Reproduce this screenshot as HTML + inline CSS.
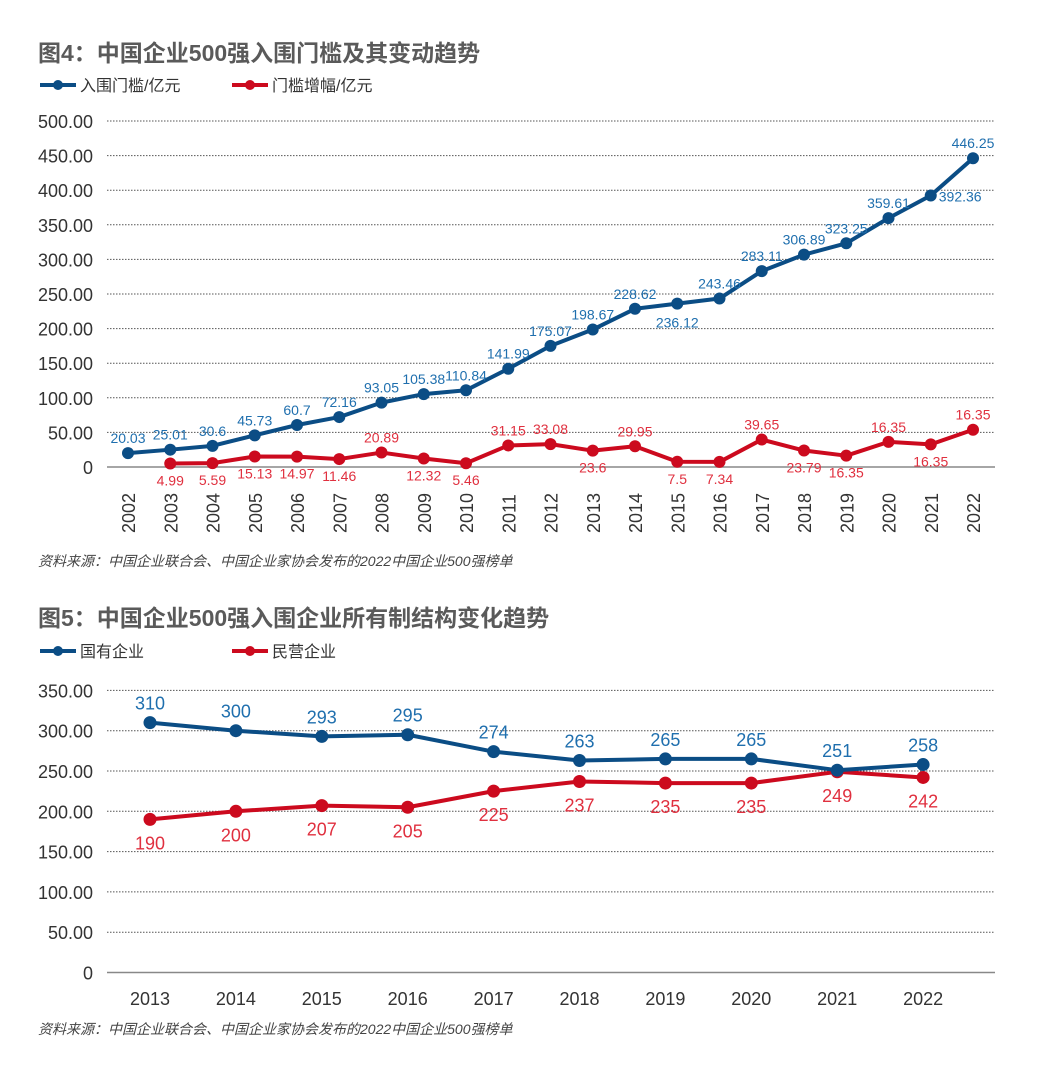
<!DOCTYPE html>
<html><head><meta charset="utf-8">
<style>
body{margin:0;background:#fff;width:1038px;height:1066px;overflow:hidden;font-family:"Liberation Sans","Noto Sans CJK SC",sans-serif;}
svg{position:absolute;left:0;top:0}
</style></head>
<body>
<svg id="s" width="1038" height="1066" font-family="Liberation Sans, Noto Sans CJK SC, sans-serif"></svg>
<script>
const years1=["2002","2003","2004","2005","2006","2007","2008","2009","2010","2011","2012","2013","2014","2015","2016","2017","2018","2019","2020","2021","2022"];
const threshold=[20.03,25.01,30.6,45.73,60.7,72.16,93.05,105.38,110.84,141.99,175.07,198.67,228.62,236.12,243.46,283.11,306.89,323.25,359.61,392.36,446.25];
const increase=[null,4.99,5.59,15.13,14.97,11.46,20.89,12.32,5.46,31.15,33.08,23.6,29.95,7.5,7.34,39.65,23.79,16.35,36.36,32.75,53.89];
const increaseLabels=["","4.99","5.59","15.13","14.97","11.46","20.89","12.32","5.46","31.15","33.08","23.6","29.95","7.5","7.34","39.65","23.79","16.35","16.35","16.35","16.35"];
const ticks1=["0","50.00","100.00","150.00","200.00","250.00","300.00","350.00","400.00","450.00","500.00"];
const years2=["2013","2014","2015","2016","2017","2018","2019","2020","2021","2022"];
const stateOwned=[310,300,293,295,274,263,265,265,251,258];
const privateOwned=[190,200,207,205,225,237,235,235,249,242];
const ticks2=["0","50.00","100.00","150.00","200.00","250.00","300.00","350.00"];

const s=document.getElementById('s');const NS="http://www.w3.org/2000/svg";
function el(t,a,txt){const e=document.createElementNS(NS,t);for(const k in a)e.setAttribute(k,a[k]);if(txt!==undefined)e.textContent=txt;s.appendChild(e);return e;}
const BLUE="#0b4d85",RED="#cc0a1e",LBLUE="#1f6fae",LRED="#e0303f";

let t=el('text',{x:38,y:61,'font-size':23,'font-weight':'bold',fill:'#5a5a5a'},'图4：中国企业500强入围门槛及其变动趋势');

t=el('text',{x:38,y:626,'font-size':23,'font-weight':'bold',fill:'#5a5a5a'},'图5：中国企业500强入围企业所有制结构变化趋势');


function legend(y,items){items.forEach(([x,c,label],i)=>{
 el('line',{x1:x,y1:y,x2:x+36,y2:y,stroke:c,'stroke-width':4});
 el('circle',{cx:x+18,cy:y,r:5,fill:c});
 const lt=el('text',{x:x+40,y:y+6,'font-size':16,fill:'#333'},label);
 
});}
legend(85,[[40,BLUE,'入围门槛/亿元'],[232,RED,'门槛增幅/亿元']]);
legend(651,[[40,BLUE,'国有企业'],[232,RED,'民营企业']]);

const x1=i=>128+i*42.25, y1=v=>467-v*0.692;
ticks1.forEach((lb,i)=>{const y=y1(i*50);
 if(i>0)el('line',{x1:107,y1:y,x2:995,y2:y,stroke:'#555','stroke-width':1,'stroke-dasharray':'1.5,1.5'});
 const tt=el('text',{x:93,y:y+7,'font-size':18,fill:'#333','text-anchor':'end'},lb);
 });
el('line',{x1:107,y1:467,x2:995,y2:467,stroke:'#888','stroke-width':1.5});
years1.forEach((yr,i)=>{const tt=el('text',{transform:`translate(${x1(i)+7},533) rotate(-90)`,'font-size':18,fill:'#333'},yr);
 });
function series(xf,yf,vals,color,name){let pts=[];vals.forEach((v,i)=>{if(v!==null)pts.push(xf(i)+','+yf(v));});
 const p=el('polyline',{points:pts.join(' '),fill:'none',stroke:color,'stroke-width':4,'stroke-linejoin':'round'});
 
 vals.forEach((v,i)=>{if(v===null)return;const c=el('circle',{cx:xf(i),cy:yf(v),r:name.startsWith('c5')?6.5:6,fill:color});
 });}
series(x1,y1,increase,RED,'c4-increase');
series(x1,y1,threshold,BLUE,'c4-threshold');
threshold.forEach((v,i)=>{let dy=-10,dx=0,anchor='middle';if(i===13){dy=24;} if(i===19){dx=8;dy=6;anchor='start';}
 const tt=el('text',{x:x1(i)+dx,y:y1(v)+dy,'font-size':14,fill:LBLUE,'text-anchor':anchor},String(v));
 });
const redUp=[6,9,10,12,15,18,20];
increase.forEach((v,i)=>{if(v===null)return;const up=redUp.includes(i);
 const tt=el('text',{x:x1(i),y:y1(v)+(up?-10:22),'font-size':14,fill:LRED,'text-anchor':'middle'},increaseLabels[i]);
 });
t=el('text',{x:38,y:566,'font-size':14,'font-style':'italic',fill:'#444'},'资料来源：中国企业联合会、中国企业家协会发布的2022中国企业500强榜单');


const x2=i=>150+i*85.9, y2=v=>972.5-v*0.806;
ticks2.forEach((lb,i)=>{const y=y2(i*50);
 if(i>0)el('line',{x1:107,y1:y,x2:995,y2:y,stroke:'#555','stroke-width':1,'stroke-dasharray':'1.5,1.5'});
 const tt=el('text',{x:93,y:y+7,'font-size':18,fill:'#333','text-anchor':'end'},lb);
 });
el('line',{x1:107,y1:972.5,x2:995,y2:972.5,stroke:'#888','stroke-width':1.5});
years2.forEach((yr,i)=>{const tt=el('text',{x:x2(i),y:1005,'font-size':18,fill:'#333','text-anchor':'middle'},yr);
 });
series(x2,y2,privateOwned,RED,'c5-private');
series(x2,y2,stateOwned,BLUE,'c5-state');
stateOwned.forEach((v,i)=>{const tt=el('text',{x:x2(i),y:y2(v)-13,'font-size':18,fill:LBLUE,'text-anchor':'middle'},String(v));
 });
privateOwned.forEach((v,i)=>{const tt=el('text',{x:x2(i),y:y2(v)+30,'font-size':18,fill:LRED,'text-anchor':'middle'},String(v));
 });
t=el('text',{x:38,y:1034,'font-size':14,'font-style':'italic',fill:'#444'},'资料来源：中国企业联合会、中国企业家协会发布的2022中国企业500强榜单');

</script>
</body></html>
